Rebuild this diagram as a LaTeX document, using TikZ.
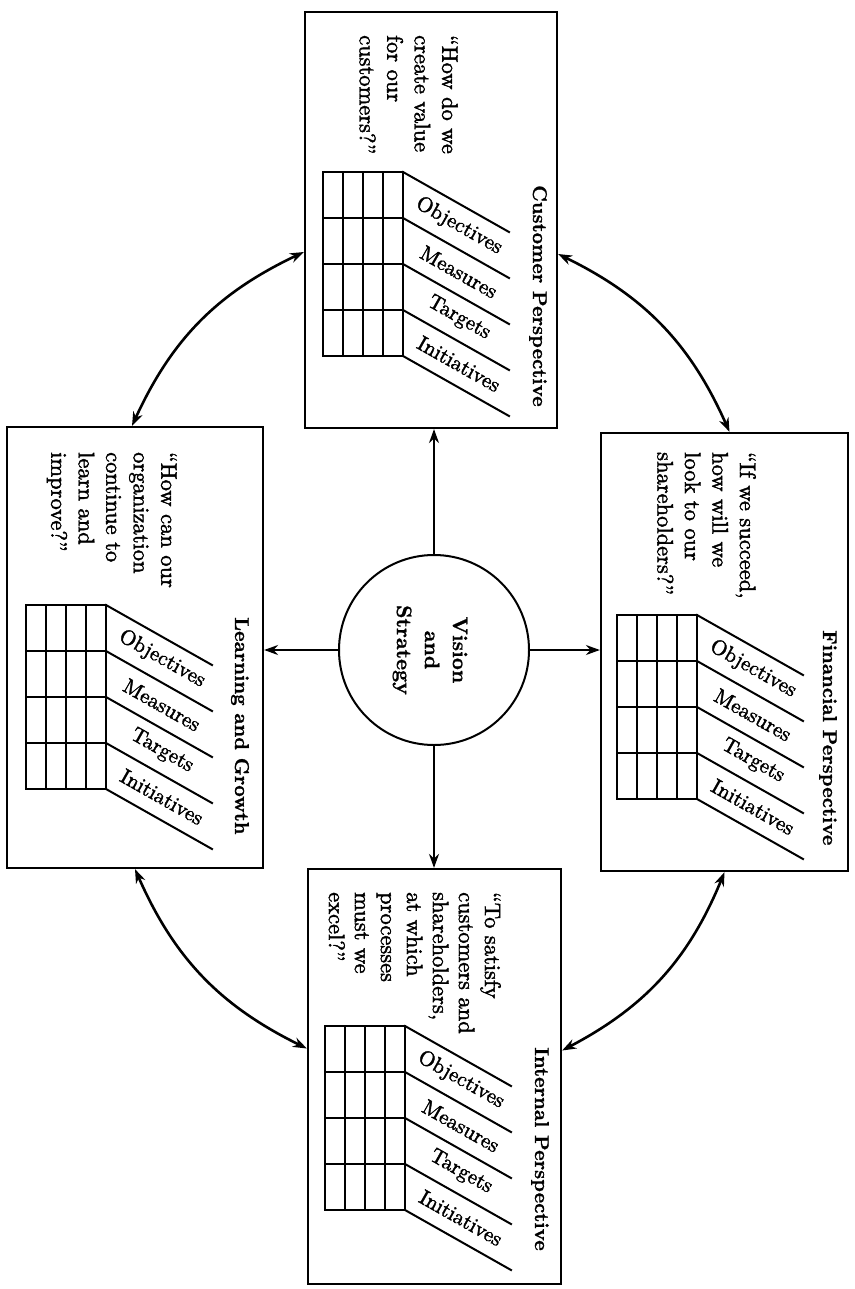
\documentclass[tikz,border=0pt]{standalone}
\usepackage{fontspec}
\newfontfamily\myreg{lmroman10-regular.otf}[FakeBold=1.8]
\newfontfamily\mybold{lmroman10-bold.otf}[FakeBold=1.0]
\usetikzlibrary{arrows.meta,calc}
\newcommand\bsgrid[3]{% #1 right x of grid, #2 top y (page), #3 name prefix
 \begin{scope}[shift={(#1,#2)}]
  \draw[gridln] (-80,0) rectangle (0,-184);
  \foreach \i in {1,2,3} \draw[gridln] (-80+20*\i,0) -- (-80+20*\i,-184);
  \foreach \j in {1,2,3} \draw[gridln] (-80,-46*\j) -- (0,-46*\j);
  \foreach \j in {0,...,4} \draw[gridln] (0,-46*\j) -- (106,-46*\j-60);
  \foreach \t [count=\k from 0] in {Objectives,Measures,Targets,Initiatives}
    \node[lbl] (#3-\k) at (56,-46*\k-23-31) {\t};
 \end{scope}}
\begin{document}
\begin{tikzpicture}[x=1pt,y=1pt,
  box/.style={draw,line width=2.2pt,rectangle,inner sep=0pt},
  tip/.tip={Stealth[length=14pt,width=10pt]},
  arr/.style={line width=2pt,-tip},
  darr/.style={line width=2.6pt,tip-tip},
  ttl/.style={rotate=-90,anchor=west,inner sep=0pt,font=\fontsize{20}{24}\selectfont\mybold},
  qst/.style={rotate=-90,anchor=north west,inner sep=0pt,align=left,font=\fontsize{22.5}{27.5}\selectfont\myreg},
  lbl/.style={rotate=-29.5,inner sep=0pt,font=\fontsize{21}{24}\selectfont\myreg},
  gridln/.style={line width=2pt,line cap=rect}]
\useasboundingbox (0,0) rectangle (854,-1289);

% boxes
\node[box,minimum width=252pt,minimum height=416pt] (cust) at (431,-220) {};
\node[box,minimum width=247pt,minimum height=438pt] (fin) at (724.5,-652) {};
\node[box,minimum width=256pt,minimum height=441pt] (learn) at (135,-647.5) {};
\node[box,minimum width=253pt,minimum height=415pt] (int) at (434.5,-1076.5) {};
\node[draw,circle,line width=2pt,minimum size=190pt,inner sep=0pt] (vis) at (434,-650) {};
\node[rotate=-90,align=center,inner sep=0pt,font=\fontsize{21}{28}\selectfont\mybold] (vistext) at (430,-650) {Vision\\and\\Strategy};

% titles
\node[ttl] (custt) at (538,-185) {Customer Perspective};
\node[ttl] (fint) at (828,-630) {Financial Perspective};
\node[ttl] (learnt) at (240,-617) {Learning and Growth};
\node[ttl] (intt) at (540,-1047) {Internal Perspective};

% questions
\node[qst] (custq) at (458,-35) {“How do we\\create value\\for our\\customers?”};
\node[qst] (finq) at (756,-452) {“If we succeed,\\how will we\\look to our\\shareholders?”};
\node[qst] (learnq) at (177,-452) {“How can our\\organization\\continue to\\learn and\\improve?”};
\node[qst,font=\fontsize{22.5}{26}\selectfont\myreg] (intq) at (501,-892) {“To satisfy\\customers and\\shareholders,\\at which\\processes\\must we\\excel?”};

% scorecard grids
\bsgrid{403}{-172}{cg}
\bsgrid{697}{-615}{fg}
\bsgrid{106}{-605}{lg}
\bsgrid{405}{-1026}{ig}

% straight arrows
\draw[arr] (vis.north) -- (vis.north |- cust.south);
\draw[arr] (vis.south) -- (vis.south |- int.north);
\draw[arr] (vis.west) -- (vis.west -| learn.east);
\draw[arr] (vis.east) -- (vis.east -| fin.west);

% curved double arrows
\draw[darr] ([yshift=-32pt]cust.west) to[bend right=20] ([xshift=-3pt]learn.north);
\draw[darr] ([yshift=-34pt]cust.east) to[bend left=20] ([xshift=5pt]fin.north);
\draw[darr] (learn.south) to[bend right=20] ([yshift=28pt]int.west);
\draw[darr] (fin.south) to[bend left=20] ([yshift=26pt]int.east);
\end{tikzpicture}
\end{document}
